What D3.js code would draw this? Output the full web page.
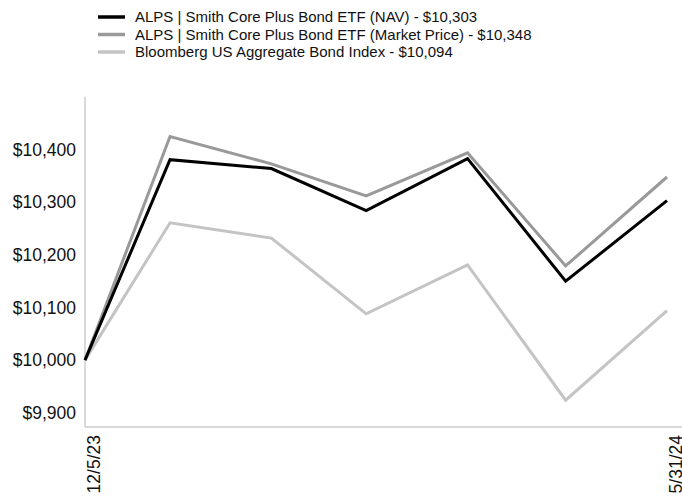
<!DOCTYPE html>
<html>
<head>
<meta charset="utf-8">
<script src="https://cdn.jsdelivr.net/npm/d3@7"></script>
<style>
  body { margin: 0; background: #fff; }
  svg text { font-family: "Liberation Sans", Arial, Helvetica, sans-serif; fill: #111; }
</style>
</head>
<body>
<div id="chart"></div>
<script>
const dates = ["2023-12-05", "2023-12-31", "2024-01-31", "2024-02-29", "2024-03-31", "2024-04-30", "2024-05-31"];
const navValues = [10000, 10381, 10364, 10284, 10383, 10150, 10303];
const marketValues = [10000, 10425, 10373, 10312, 10394, 10179, 10348];
const indexValues = [10000, 10261, 10232, 10088, 10181, 9924, 10094];
const seriesNames = [
  "ALPS | Smith Core Plus Bond ETF (NAV) - $10,303",
  "ALPS | Smith Core Plus Bond ETF (Market Price) - $10,348",
  "Bloomberg US Aggregate Bond Index - $10,094"
];
const seriesColors = ["#000000", "#999999", "#c4c4c4"];
const yTicks = [9900, 10000, 10100, 10200, 10300, 10400];
const xTickLabels = ["12/5/23", "5/31/24"];

const width = 682, height = 496;
const margin = { top: 97, right: 15, bottom: 69, left: 85 };

const parse = d3.timeParse("%Y-%m-%d");
const dateObjs = dates.map(parse);

const series = [navValues, marketValues, indexValues].map((vals, i) => ({
  name: seriesNames[i],
  color: seriesColors[i],
  values: vals.map((v, j) => ({ date: dateObjs[j], value: v }))
}));

const svg = d3.select("#chart").append("svg")
  .attr("width", width)
  .attr("height", height);

const x = d3.scaleTime()
  .domain(d3.extent(dateObjs))
  .range([margin.left, width - margin.right]);

const y = d3.scaleLinear()
  .domain([9873, 10500])
  .range([height - margin.bottom, margin.top]);

// axes lines
svg.append("line")
  .attr("x1", margin.left).attr("x2", margin.left)
  .attr("y1", margin.top).attr("y2", height - margin.bottom)
  .attr("stroke", "#cccccc").attr("stroke-width", 1.5);
svg.append("line")
  .attr("x1", margin.left).attr("x2", width)
  .attr("y1", height - margin.bottom).attr("y2", height - margin.bottom)
  .attr("stroke", "#cccccc").attr("stroke-width", 1.5);

// y labels
svg.append("g")
  .selectAll("text")
  .data(yTicks)
  .join("text")
  .attr("x", margin.left - 9)
  .attr("y", d => y(d))
  .attr("dy", "0.35em")
  .attr("text-anchor", "end")
  .attr("font-size", 17.5)
  .text(d => "$" + d3.format(",")(d));

// x labels (first and last date)
const xTickDates = [dateObjs[0], dateObjs[dateObjs.length - 1]];
svg.append("g")
  .selectAll("text")
  .data(xTickDates)
  .join("text")
  .attr("transform", d => `translate(${x(d) + 15},${height - margin.bottom + 8}) rotate(-90)`)
  .attr("text-anchor", "end")
  .attr("font-size", 17.5)
  .text((d, i) => xTickLabels[i]);

const line = d3.line()
  .x(d => x(d.date))
  .y(d => y(d.value));

// draw light first so the dark line sits on top
svg.append("g")
  .selectAll("path")
  .data(series.slice().reverse())
  .join("path")
  .attr("fill", "none")
  .attr("stroke", d => d.color)
  .attr("stroke-width", 3)
  .attr("stroke-linejoin", "miter")
  .attr("d", d => line(d.values));

// legend
const legend = svg.append("g");
const rows = legend.selectAll("g")
  .data(series)
  .join("g")
  .attr("transform", (d, i) => `translate(98,${17 + i * 17.5})`);
rows.append("line")
  .attr("x1", 0).attr("x2", 27)
  .attr("stroke", d => d.color)
  .attr("stroke-width", 3.5);
rows.append("text")
  .attr("x", 37)
  .attr("dy", "0.35em")
  .attr("font-size", 15)
  .text(d => d.name);
</script>
</body>
</html>
